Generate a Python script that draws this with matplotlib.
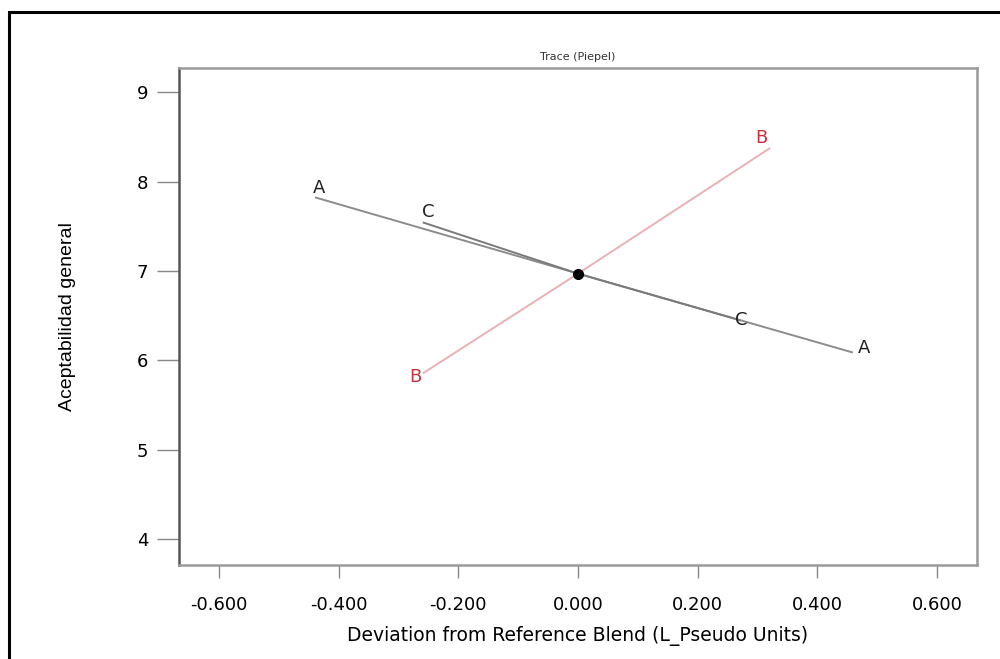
import matplotlib
matplotlib.use("Agg")
import matplotlib.pyplot as plt
from matplotlib.patches import Rectangle

# trace data (deviation, response)
dev_a = [-0.438, 0.0, 0.458]
resp_a = [7.82, 6.97, 6.09]
dev_b = [-0.258, 0.0, 0.320]
resp_b = [5.86, 6.97, 8.37]
dev_c = [-0.258, 0.0, 0.270]
resp_c = [7.54, 6.97, 6.45]
ref_point = (0.0, 6.97)

x_ticks = [-0.6, -0.4, -0.2, 0.0, 0.2, 0.4, 0.6]
y_ticks = [4, 5, 6, 7, 8, 9]

fig = plt.figure(figsize=(10, 6.59), dpi=100)
ax = fig.add_axes([0.179, 0.1426, 0.798, 0.7542])

ax.plot(dev_a, resp_a, color="#8c8c8c", lw=1.4)
ax.plot(dev_c, resp_c, color="#7a7a7a", lw=1.4)
ax.plot(dev_b, resp_b, color="#eab0b6", lw=1.4)
ax.plot(*ref_point, "o", color="black", ms=7, zorder=5)


def end_label(txt, x, y, dx, dy, color):
    ax.annotate(txt, (x, y), xytext=(dx, dy), textcoords="offset pixels",
                ha="center", va="center", fontsize=13, color=color)


# labels at each end of the traces
end_label("A", dev_a[0], resp_a[0], 3, 10, "#222222")
end_label("A", dev_a[-1], resp_a[-1], 12, 4, "#222222")
end_label("B", dev_b[0], resp_b[0], -8, -4, "#c8323c")
end_label("B", dev_b[-1], resp_b[-1], -8, 10, "#c8323c")
end_label("C", dev_c[0], resp_c[0], 5, 11, "#222222")
end_label("C", dev_c[-1], resp_c[-1], 2, 0, "#222222")

ax.set_xlim(-0.667, 0.667)
ax.set_ylim(3.71, 9.27)
ax.set_xticks(x_ticks)
ax.set_xticklabels([f"{t:.3f}" for t in x_ticks])
ax.set_yticks(y_ticks)
ax.tick_params(axis="x", direction="out", length=9, width=1, color="#888888",
               labelsize=13, pad=13)
ax.tick_params(axis="y", direction="out", length=16, width=1, color="#888888",
               labelsize=13, pad=6)

for s in ax.spines.values():
    s.set_color("#9a9a9a")
    s.set_linewidth(1.8)
ax.spines["left"].set_color("#555555")

ax.set_title("Trace (Piepel)", fontsize=8, color="#333333", pad=6)
ax.set_xlabel("Deviation from Reference Blend (L_Pseudo Units)", fontsize=13.5,
              labelpad=9)
ax.set_ylabel("Aceptabilidad general", fontsize=14,
              family=["Liberation Sans", "DejaVu Sans"], labelpad=44)

# outer frame of the original screenshot
fig.add_artist(Rectangle((0.009, -0.2), 1.2, 0.2 + 0.982, transform=fig.transFigure,
                         fill=False, edgecolor="black", lw=2.2))

fig.savefig("out.png", dpi=100)
